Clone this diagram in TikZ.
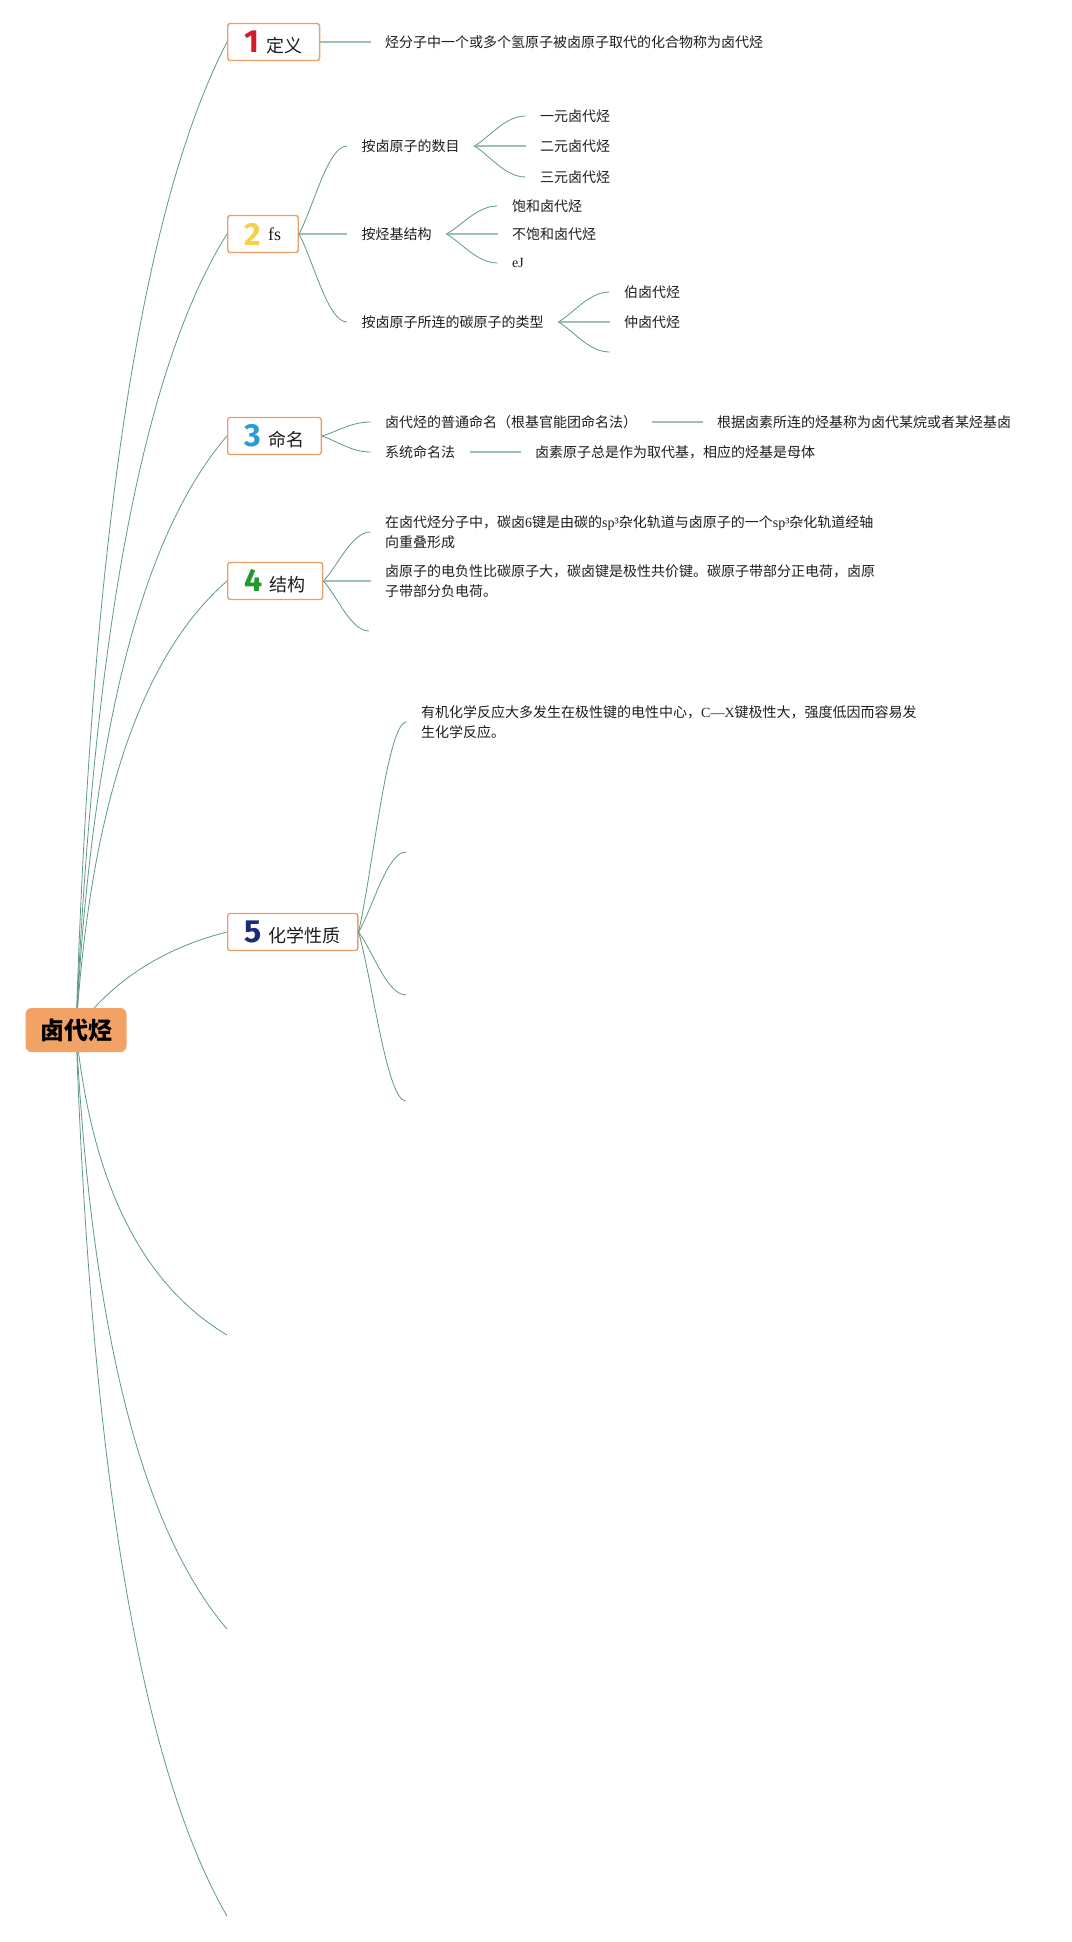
\documentclass[tikz,border=0pt]{standalone}
\usepackage{fontspec}
\setmainfont{Liberation Serif}
\newfontfamily\cjk{Noto Sans CJK SC}
\newfontfamily\numf{Fira Sans}
\usetikzlibrary{calc,backgrounds}
\definecolor{lnk}{HTML}{5E9A87}
\definecolor{lnkh}{HTML}{9CC2B3}
\definecolor{bord}{HTML}{EA9F6B}
\definecolor{rootc}{HTML}{F3A266}
\definecolor{nA}{HTML}{D51A2C}
\definecolor{nB}{HTML}{F4D04B}
\definecolor{nC}{HTML}{2B9BD8}
\definecolor{nD}{HTML}{1F9A2C}
\definecolor{nE}{HTML}{1C2A7A}
\definecolor{txtc}{HTML}{1E1E1E}
\newcommand\numlab[3]{{\numf\bfseries\fontsize{32}{32}\selectfont\color{#1}#2}\hspace{7pt}{#3}}
\newcommand\lat[1]{{\rmfamily #1}}
\tikzset{
 topic/.style={draw=bord, line width=1.4pt, fill=white, rounded corners=2.5pt, anchor=west,
   minimum height=37pt, inner xsep=17pt, inner ysep=0pt, font=\cjk\fontsize{18}{18}\selectfont, text=txtc},
 rootbox/.style={fill=rootc, rounded corners=6pt, minimum width=101pt, minimum height=44pt,
   inner sep=0pt, font=\cjk\bfseries\fontsize{24}{24}\selectfont, text=black},
 leaf/.style={anchor=west, inner xsep=14.5pt, inner ysep=2pt, font=\cjk\fontsize{14}{20}\selectfont,
   align=left, text=txtc},
 conn/.style={draw=lnk, line width=0.8pt},
 hconn/.style={draw=lnkh, line width=1.6pt},
}
\newcommand\rootlink[3]{%
 \draw[conn] let \p1=(#1), \p2=(#2) in (\p1) .. controls ({\x1+2*#3pt/3},{\y1+0.5*(\y2-\y1)}) and ({\x2-2*(\x2-\x1-#3pt)/3},{\y2-(\y2-\y1)/6}) .. (\p2);}
\newcommand\brlink[2]{%
 \draw[conn] let \p1=(#1), \p2=(#2) in (\p1) .. controls ({0.7*\x1+0.3*\x2},{0.7*\y1+0.3*\y2}) and ({0.4*\x1+0.6*\x2},{\y2}) .. (\p2);}
\newcommand\hlink[2]{\draw[hconn] (#1) -- (#2);}
\begin{document}
\begin{tikzpicture}[x=1pt,y=-1pt]
\useasboundingbox (0,0) rectangle (1071,1942);
% root
\node[rootbox] (root) at (76,1030) {卤代烃};
% topics
\node[topic] (b1) at (227,42) {\numlab{nA}{1}{定义}};
\node[topic] (b2) at (227,234) {\numlab{nB}{2}{\raisebox{5pt}{\rmfamily fs}}};
\node[topic] (b3) at (227,436) {\numlab{nC}{3}{命名}};
\node[topic] (b4) at (227,581) {\numlab{nD}{4}{结构}};
\node[topic] (b5) at (227,932) {\numlab{nE}{5}{化学性质}};
\coordinate (r6) at (227,1335);
\coordinate (r7) at (227,1629);
\coordinate (r8) at (227,1916);
% topic 1
\node[leaf] (d1) at (370.5,42) {烃分子中一个或多个氢原子被卤原子取代的化合物称为卤代烃};
% topic 2
\node[leaf] (c21) at (347,146) {按卤原子的数目};
\node[leaf] (c22) at (347,234) {按烃基结构};
\node[leaf] (c23) at (347,322) {按卤原子所连的碳原子的类型};
\node[leaf] (g211) at (525.5,116) {一元卤代烃};
\node[leaf] (g212) at (525.5,146) {二元卤代烃};
\node[leaf] (g213) at (525.5,177) {三元卤代烃};
\node[leaf] (g221) at (497.5,206) {饱和卤代烃};
\node[leaf] (g222) at (497.5,234) {不饱和卤代烃};
\node[leaf] (g223) at (497.5,263) {\lat{eJ}};
\node[leaf] (g231) at (609.5,292) {伯卤代烃};
\node[leaf] (g232) at (609.5,322) {仲卤代烃};
\coordinate (g233) at (609.5,352);
% topic 3
\node[leaf] (c31) at (370.5,422) {卤代烃的普通命名（根基官能团命名法）};
\node[leaf] (c32) at (370.5,452) {系统命名法};
\node[leaf] (e31) at (702.5,422) {根据卤素所连的烃基称为卤代某烷或者某烃基卤};
\node[leaf] (e32) at (520.5,452) {卤素原子总是作为取代基，相应的烃基是母体};
% topic 4
\node[leaf] (c41) at (370.5,532) {在卤代烃分子中，碳卤\lat{6}键是由碳的\lat{sp³}杂化轨道与卤原子的一个\lat{sp³}杂化轨道经轴\\向重叠形成};
\node[leaf] (c42) at (370.5,581) {卤原子的电负性比碳原子大，碳卤键是极性共价键。碳原子带部分正电荷，卤原\\子带部分负电荷。};
\coordinate (c43) at (369,631);
% topic 5
\node[leaf] (c51) at (406.5,722) {有机化学反应大多发生在极性键的电性中心，\lat{C—X}键极性大，强度低因而容易发\\生化学反应。};
\coordinate (c52) at (406,852);
\coordinate (c53) at (406,995);
\coordinate (c54) at (406,1101);
\begin{scope}[on background layer]
\fill[white] (0,0) rectangle (1071,1942);
\rootlink{root.center}{b1.west}{23}
\rootlink{root.center}{b2.west}{26}
\rootlink{root.center}{b3.west}{23}
\rootlink{root.center}{b4.west}{22}
\rootlink{root.center}{b5.west}{54}
\rootlink{root.center}{r6}{23}
\rootlink{root.center}{r7}{23}
\rootlink{root.center}{r8}{23}
\end{scope}
% links
\hlink{b1.east}{d1.west}
\brlink{b2.east}{c21.west}
\hlink{b2.east}{c22.west}
\brlink{b2.east}{c23.west}
\brlink{c21.east}{g211.west}
\hlink{c21.east}{g212.west}
\brlink{c21.east}{g213.west}
\brlink{c22.east}{g221.west}
\hlink{c22.east}{g222.west}
\brlink{c22.east}{g223.west}
\brlink{c23.east}{g231.west}
\hlink{c23.east}{g232.west}
\brlink{c23.east}{g233}
\brlink{b3.east}{c31.west}
\brlink{b3.east}{c32.west}
\hlink{c31.east}{e31.west}
\hlink{c32.east}{e32.west}
\brlink{b4.east}{c41.west}
\hlink{b4.east}{c42.west}
\brlink{b4.east}{c43}
\brlink{b5.east}{c51.west}
\brlink{b5.east}{c52}
\brlink{b5.east}{c53}
\brlink{b5.east}{c54}
\end{tikzpicture}
\end{document}
